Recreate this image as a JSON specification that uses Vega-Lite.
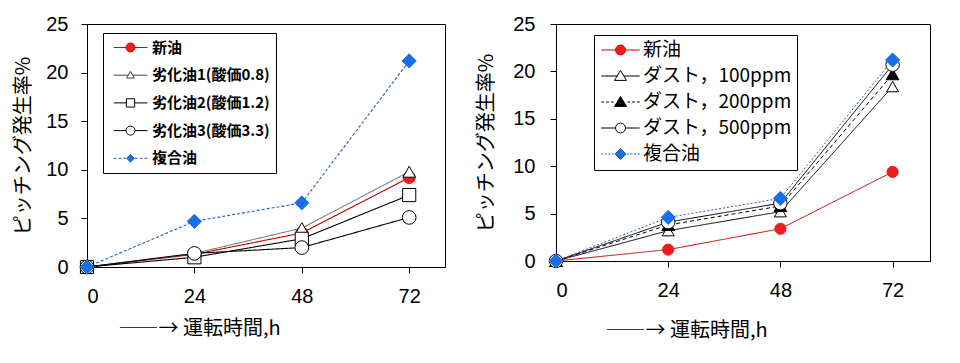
{
  "$schema": "https://vega.github.io/schema/vega-lite/v6.json",
  "padding": {"left": 13, "top": 13, "right": 0, "bottom": 0},
  "spacing": 30,
  "config": {
    "view": {"stroke": "#000", "strokeWidth": 1},
    "axis": {"grid": false, "domainColor": "#000", "tickColor": "#000", "tickSize": 6, "labelFont": "Liberation Sans", "labelFontSize": 20, "labelColor": "#000", "titleFont": "Noto Sans CJK JP", "titleFontSize": 20, "titleFontWeight": "normal", "titleColor": "#000"},
    "legend": {"strokeColor": "#000", "fillColor": "#fff", "symbolOpacity": 1, "title": null, "orient": "none"}
  },
  "datasets": {
    "left": [
      {"t": 0, "v": 0, "s": "新油"}, {"t": 24, "v": 1.3, "s": "新油"}, {"t": 48, "v": 3.5, "s": "新油"}, {"t": 72, "v": 9.2, "s": "新油"},
      {"t": 0, "v": 0, "s": "劣化油1(酸価0.8)"}, {"t": 24, "v": 1.4, "s": "劣化油1(酸価0.8)"}, {"t": 48, "v": 4.0, "s": "劣化油1(酸価0.8)"}, {"t": 72, "v": 9.8, "s": "劣化油1(酸価0.8)"},
      {"t": 0, "v": 0, "s": "劣化油2(酸価1.2)"}, {"t": 24, "v": 1.0, "s": "劣化油2(酸価1.2)"}, {"t": 48, "v": 2.9, "s": "劣化油2(酸価1.2)"}, {"t": 72, "v": 7.4, "s": "劣化油2(酸価1.2)"},
      {"t": 0, "v": 0, "s": "劣化油3(酸価3.3)"}, {"t": 24, "v": 1.4, "s": "劣化油3(酸価3.3)"}, {"t": 48, "v": 2.0, "s": "劣化油3(酸価3.3)"}, {"t": 72, "v": 5.1, "s": "劣化油3(酸価3.3)"},
      {"t": 0, "v": 0, "s": "複合油"}, {"t": 24, "v": 4.7, "s": "複合油"}, {"t": 48, "v": 6.6, "s": "複合油"}, {"t": 72, "v": 21.2, "s": "複合油"}
    ],
    "right": [
      {"t": 0, "v": 0, "s": "新油"}, {"t": 24, "v": 1.2, "s": "新油"}, {"t": 48, "v": 3.4, "s": "新油"}, {"t": 72, "v": 9.4, "s": "新油"},
      {"t": 0, "v": 0, "s": "ダスト，100ppm"}, {"t": 24, "v": 3.2, "s": "ダスト，100ppm"}, {"t": 48, "v": 5.2, "s": "ダスト，100ppm"}, {"t": 72, "v": 18.4, "s": "ダスト，100ppm"},
      {"t": 0, "v": 0, "s": "ダスト，200ppm"}, {"t": 24, "v": 3.8, "s": "ダスト，200ppm"}, {"t": 48, "v": 5.8, "s": "ダスト，200ppm"}, {"t": 72, "v": 19.7, "s": "ダスト，200ppm"},
      {"t": 0, "v": 0, "s": "ダスト，500ppm"}, {"t": 24, "v": 4.1, "s": "ダスト，500ppm"}, {"t": 48, "v": 6.1, "s": "ダスト，500ppm"}, {"t": 72, "v": 20.7, "s": "ダスト，500ppm"},
      {"t": 0, "v": 0, "s": "複合油"}, {"t": 24, "v": 4.6, "s": "複合油"}, {"t": 48, "v": 6.6, "s": "複合油"}, {"t": 72, "v": 21.2, "s": "複合油"}
    ]
  },
  "hconcat": [
    {
      "width": 358, "height": 243,
      "data": {"name": "left"},
      "encoding": {
        "x": {"field": "t", "type": "quantitative", "scale": {"domain": [0, 80], "nice": false}, "axis": {"values": [0, 24, 48, 72], "labelPadding": 13, "title": "――→ 運転時間,h", "titleAnchor": "start", "titleAlign": "left", "titleX": 31, "titleY": 67, "titleBaseline": "alphabetic"}},
        "y": {"field": "v", "type": "quantitative", "scale": {"domain": [0, 25], "nice": false}, "axis": {"values": [0, 5, 10, 15, 20, 25], "labelPadding": 13, "titlePadding": 12, "title": "ピッチング発生率%"}}
      },
      "layer": [
        {
          "mark": {"type": "line", "strokeWidth": 1.1},
          "encoding": {
            "detail": {"field": "s"},
            "stroke": {"field": "s", "type": "nominal", "legend": null, "scale": {"domain": ["新油", "劣化油1(酸価0.8)", "劣化油2(酸価1.2)", "劣化油3(酸価3.3)", "複合油"], "range": ["#c00000", "#808080", "#000000", "#000000", "#1f5fc0"]}},
            "strokeDash": {"field": "s", "type": "nominal", "legend": null, "scale": {"domain": ["新油", "劣化油1(酸価0.8)", "劣化油2(酸価1.2)", "劣化油3(酸価3.3)", "複合油"], "range": [[1, 0], [1, 0], [1, 0], [1, 0], [3, 2]]}}
          }
        },
        {
          "mark": {"type": "point", "strokeWidth": 1, "opacity": 1},
          "encoding": {
            "shape": {"field": "s", "type": "nominal", "legend": null, "scale": {"domain": ["新油", "劣化油1(酸価0.8)", "劣化油2(酸価1.2)", "劣化油3(酸価3.3)", "複合油"], "range": ["circle", "triangle-up", "square", "circle", "diamond"]}},
            "fill": {"field": "s", "type": "nominal", "legend": null, "scale": {"domain": ["新油", "劣化油1(酸価0.8)", "劣化油2(酸価1.2)", "劣化油3(酸価3.3)", "複合油"], "range": ["#ee1c1c", "#ffffff", "#ffffff", "#ffffff", "#1a6ee8"]}},
            "stroke": {"field": "s", "type": "nominal", "legend": null, "scale": {"domain": ["新油", "劣化油1(酸価0.8)", "劣化油2(酸価1.2)", "劣化油3(酸価3.3)", "複合油"], "range": ["#ee1c1c", "#000000", "#000000", "#000000", "#1a6ee8"]}},
            "size": {"field": "s", "type": "nominal", "legend": null, "scale": {"domain": ["新油", "劣化油1(酸価0.8)", "劣化油2(酸価1.2)", "劣化油3(酸価3.3)", "複合油"], "range": [145, 200, 170, 150, 145]}}
          }
        },
        {
          "mark": {"type": "point", "opacity": 0, "strokeWidth": 1},
          "encoding": {
            "shape": {"field": "s", "type": "nominal", "scale": {"domain": ["新油", "劣化油1(酸価0.8)", "劣化油2(酸価1.2)", "劣化油3(酸価3.3)", "複合油"], "range": [
              "M-2.1,0L-0.56,0M0.56,0L2.1,0M-0.56,0A0.56,0.56 0 1,0 0.56,0A0.56,0.56 0 1,0 -0.56,0Z",
              "M-2.1,0L-0.27,0M0.27,0L2.1,0M0,-0.5L0.48,0.36L-0.48,0.36Z",
              "M-2.1,0L-0.52,0M0.52,0L2.1,0M-0.52,-0.52L0.52,-0.52L0.52,0.52L-0.52,0.52Z",
              "M-2.1,0L-0.56,0M0.56,0L2.1,0M-0.56,0A0.56,0.56 0 1,0 0.56,0A0.56,0.56 0 1,0 -0.56,0Z",
              "M-2.1,0L-1.75,0M-1.5,0L-1.15,0M-0.9,0L-0.55,0M0.55,0L0.9,0M1.15,0L1.5,0M1.75,0L2.1,0M0,-0.48L0.48,0L0,0.48L-0.48,0Z"
            ]}, "legend": {"legendX": 16, "legendY": 9, "padding": 6, "symbolSize": 256, "symbolOffset": 13, "labelOffset": 13, "rowPadding": 10.7, "labelFont": "Noto Sans CJK JP", "labelFontSize": 15, "labelFontWeight": "bold", "labelColor": "#000", "symbolStrokeWidth": 1}},
            "fill": {"field": "s", "type": "nominal", "scale": {"domain": ["新油", "劣化油1(酸価0.8)", "劣化油2(酸価1.2)", "劣化油3(酸価3.3)", "複合油"], "range": ["#ee1c1c", "#ffffff", "#ffffff", "#ffffff", "#1a6ee8"]}},
            "stroke": {"field": "s", "type": "nominal", "scale": {"domain": ["新油", "劣化油1(酸価0.8)", "劣化油2(酸価1.2)", "劣化油3(酸価3.3)", "複合油"], "range": ["#d00000", "#444444", "#000000", "#000000", "#1f5fc0"]}}
          }
        }
      ],
      "resolve": {"scale": {"stroke": "independent", "fill": "independent", "shape": "independent", "strokeDash": "independent", "size": "independent"}}
    },
    {
      "width": 374, "height": 237,
      "data": {"name": "right"},
      "encoding": {
        "x": {"field": "t", "type": "quantitative", "scale": {"domain": [0, 80], "nice": false}, "axis": {"values": [0, 24, 48, 72], "labelPadding": 13, "title": "――→ 運転時間,h", "titleAnchor": "start", "titleAlign": "left", "titleX": 49, "titleY": 75, "titleBaseline": "alphabetic"}},
        "y": {"field": "v", "type": "quantitative", "scale": {"domain": [0, 25], "nice": false}, "axis": {"values": [0, 5, 10, 15, 20, 25], "labelPadding": 15, "titlePadding": 16, "title": "ピッチング発生率%"}}
      },
      "layer": [
        {
          "mark": {"type": "line", "strokeWidth": 1},
          "encoding": {
            "detail": {"field": "s"},
            "stroke": {"field": "s", "type": "nominal", "legend": null, "scale": {"domain": ["新油", "ダスト，100ppm", "ダスト，200ppm", "ダスト，500ppm", "複合油"], "range": ["#c00000", "#000000", "#000000", "#000000", "#2060c0"]}},
            "strokeDash": {"field": "s", "type": "nominal", "legend": null, "scale": {"domain": ["新油", "ダスト，100ppm", "ダスト，200ppm", "ダスト，500ppm", "複合油"], "range": [[1, 0], [1, 0], [4, 3], [1, 0], [2, 2]]}}
          }
        },
        {
          "mark": {"type": "point", "strokeWidth": 1, "opacity": 1},
          "encoding": {
            "shape": {"field": "s", "type": "nominal", "legend": null, "scale": {"domain": ["新油", "ダスト，100ppm", "ダスト，200ppm", "ダスト，500ppm", "複合油"], "range": ["circle", "triangle-up", "triangle-up", "circle", "diamond"]}},
            "fill": {"field": "s", "type": "nominal", "legend": null, "scale": {"domain": ["新油", "ダスト，100ppm", "ダスト，200ppm", "ダスト，500ppm", "複合油"], "range": ["#ee1c1c", "#ffffff", "#000000", "#ffffff", "#1a6ee8"]}},
            "stroke": {"field": "s", "type": "nominal", "legend": null, "scale": {"domain": ["新油", "ダスト，100ppm", "ダスト，200ppm", "ダスト，500ppm", "複合油"], "range": ["#ee1c1c", "#000000", "#000000", "#000000", "#1a6ee8"]}},
            "size": {"field": "s", "type": "nominal", "legend": null, "scale": {"domain": ["新油", "ダスト，100ppm", "ダスト，200ppm", "ダスト，500ppm", "複合油"], "range": [125, 200, 200, 125, 150]}}
          }
        },
        {
          "mark": {"type": "point", "opacity": 0, "strokeWidth": 1},
          "encoding": {
            "shape": {"field": "s", "type": "nominal", "scale": {"domain": ["新油", "ダスト，100ppm", "ダスト，200ppm", "ダスト，500ppm", "複合油"], "range": [
              "M-2.4,0L-0.62,0M0.62,0L2.4,0M-0.62,0A0.62,0.62 0 1,0 0.62,0A0.62,0.62 0 1,0 -0.62,0Z",
              "M-2.4,0L-0.42,0M0.42,0L2.4,0M0,-0.7L0.75,0.55L-0.75,0.55Z",
              "M-2.4,0L-2.05,0M-1.8,0L-1.45,0M-1.2,0L-0.85,0M0.85,0L1.2,0M1.45,0L1.8,0M2.05,0L2.4,0M0,-0.7L0.75,0.55L-0.75,0.55Z",
              "M-2.4,0L-0.62,0M0.62,0L2.4,0M-0.62,0A0.62,0.62 0 1,0 0.62,0A0.62,0.62 0 1,0 -0.62,0Z",
              "M-2.4,0L-2.15,0M-1.95,0L-1.7,0M-1.5,0L-1.25,0M-1.05,0L-0.8,0M0.8,0L1.05,0M1.25,0L1.5,0M1.7,0L1.95,0M2.15,0L2.4,0M0,-0.68L0.68,0L0,0.68L-0.68,0Z"
            ]}, "legend": {"legendX": 38, "legendY": 11, "padding": 5.5, "symbolSize": 256, "symbolOffset": 11.5, "labelOffset": 13, "rowPadding": 6, "labelFont": "Noto Sans CJK JP", "labelFontSize": 19, "labelFontWeight": "normal", "labelColor": "#000", "symbolStrokeWidth": 1}},
            "fill": {"field": "s", "type": "nominal", "scale": {"domain": ["新油", "ダスト，100ppm", "ダスト，200ppm", "ダスト，500ppm", "複合油"], "range": ["#ee1c1c", "#ffffff", "#000000", "#ffffff", "#1a6ee8"]}},
            "stroke": {"field": "s", "type": "nominal", "scale": {"domain": ["新油", "ダスト，100ppm", "ダスト，200ppm", "ダスト，500ppm", "複合油"], "range": ["#d00000", "#000000", "#000000", "#000000", "#1f5fc0"]}}
          }
        }
      ],
      "resolve": {"scale": {"stroke": "independent", "fill": "independent", "shape": "independent", "strokeDash": "independent", "size": "independent"}}
    }
  ]
}
